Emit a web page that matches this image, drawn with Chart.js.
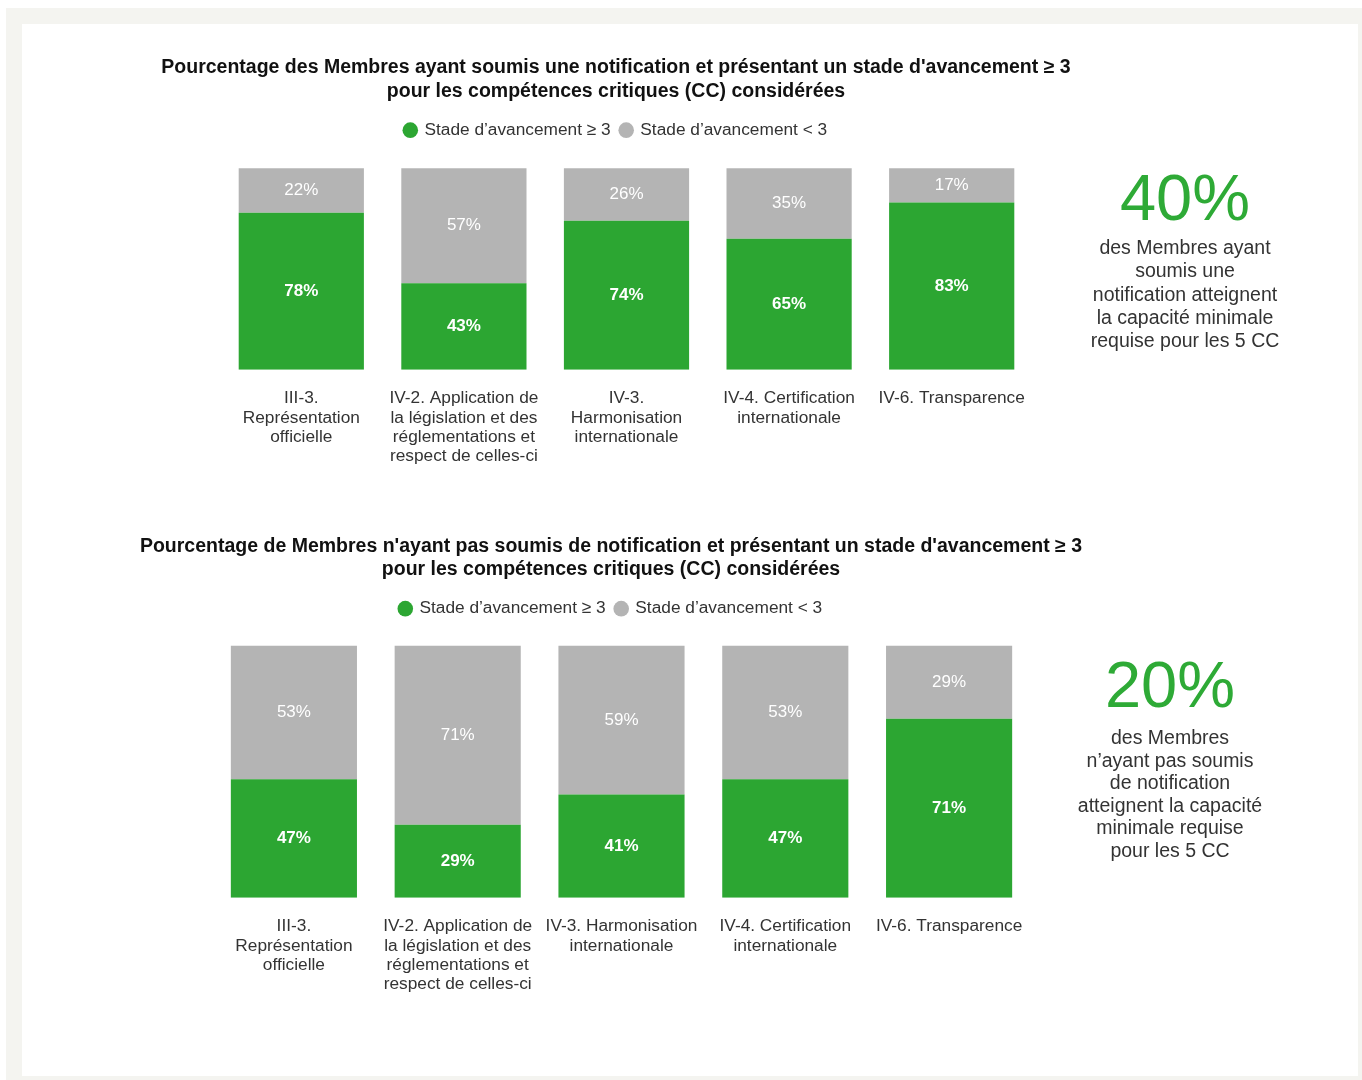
<!DOCTYPE html>
<html lang="fr">
<head>
<meta charset="utf-8">
<title>Stade d'avancement des compétences critiques</title>
<script src="https://cdn.jsdelivr.net/npm/chart.js@4.4.1/dist/chart.umd.min.js"></script>
<style>
  html, body { margin: 0; padding: 0; background: #fff; }
  body { width: 1362px; height: 1080px; position: relative; overflow: hidden;
         font-family: "Liberation Sans", Arial, sans-serif; }
  .frame { position: absolute; left: 6px; top: 8px; right: 0; bottom: 0; background: #f4f4f0; }
  .panel { position: absolute; left: 22px; top: 24px; width: 1336px; height: 1052px; background: #fff; }
  canvas { position: absolute; left: 0; }
  .big { position: absolute; width: 240px; text-align: center; color: #2eaa36;
         font-size: 65px; line-height: 65px; }
  .note { position: absolute; width: 240px; text-align: center; color: #333;
          font-size: 19.5px; }
</style>
</head>
<body>
<div class="frame"></div>
<div class="panel"></div>

<canvas id="chart-notified" width="1232" height="455" style="top:30px"></canvas>
<canvas id="chart-not-notified" width="1222" height="513" style="top:500px"></canvas>

<div class="big" style="left:1065px; top:165px">40%</div>
<div class="note" style="left:1065px; top:236px; line-height:23.3px">
  des Membres ayant<br>soumis une<br>notification atteignent<br>la capacité minimale<br>requise pour les 5 CC
</div>

<div class="big" style="left:1050px; top:652px">20%</div>
<div class="note" style="left:1050px; top:726px; line-height:22.6px">
  des Membres<br>n’ayant pas soumis<br>de notification<br>atteignent la capacité<br>minimale requise<br>pour les 5 CC
</div>

<script>
// --- data ---
const seriesNames = ['Stade d’avancement ≥ 3', 'Stade d’avancement < 3'];

const notifiedLabels = [
  ['III-3.', 'Représentation', 'officielle'],
  ['IV-2. Application de', 'la législation et des', 'réglementations et', 'respect de celles-ci'],
  ['IV-3.', 'Harmonisation', 'internationale'],
  ['IV-4. Certification', 'internationale'],
  ['IV-6. Transparence']
];
const notifiedAtLeast3 = [78, 43, 74, 65, 83];
const notifiedBelow3 = [22, 57, 26, 35, 17];

const notNotifiedLabels = [
  ['III-3.', 'Représentation', 'officielle'],
  ['IV-2. Application de', 'la législation et des', 'réglementations et', 'respect de celles-ci'],
  ['IV-3. Harmonisation', 'internationale'],
  ['IV-4. Certification', 'internationale'],
  ['IV-6. Transparence']
];
const notNotifiedAtLeast3 = [47, 29, 41, 47, 71];
const notNotifiedBelow3 = [53, 71, 59, 53, 29];

const GREEN = '#2ca632';
const GREY = '#b4b4b4';
const FONT = '"Liberation Sans", Arial, sans-serif';

// percentage written in the middle of every segment
const segmentLabels = {
  id: 'segmentLabels',
  afterDatasetsDraw(chart) {
    const ctx = chart.ctx;
    ctx.save();
    ctx.textAlign = 'center';
    ctx.textBaseline = 'middle';
    ctx.fillStyle = '#fff';
    chart.data.datasets.forEach((ds, i) => {
      ctx.font = (i === 0 ? 'bold ' : '') + '17px ' + FONT;
      chart.getDatasetMeta(i).data.forEach((bar, j) => {
        ctx.fillText(ds.data[j] + '%', bar.x, (bar.y + bar.base) / 2);
      });
    });
    ctx.restore();
  }
};

function buildChart(id, {title, labels, atLeast3, below3, yMax, leftGap, rightGap, titlePadding, titleLineHeight}) {
  return new Chart(document.getElementById(id), {
    type: 'bar',
    data: {
      labels,
      datasets: [
        { label: seriesNames[0], data: atLeast3, backgroundColor: GREEN, borderWidth: 0 },
        { label: seriesNames[1], data: below3, backgroundColor: GREY, borderWidth: 0 }
      ]
    },
    options: {
      responsive: false,
      animation: false,
      devicePixelRatio: 1,
      layout: { padding: 0 },
      datasets: { bar: { categoryPercentage: 1, barPercentage: 0.77 } },
      plugins: {
        title: {
          display: true,
          text: title,
          color: '#111',
          font: { family: FONT, size: 19.5, weight: 'bold', lineHeight: titleLineHeight },
          padding: titlePadding
        },
        legend: {
          labels: {
            usePointStyle: true,
            pointStyle: 'circle',
            boxWidth: 11,
            boxHeight: 11,
            padding: 10,
            color: '#333',
            font: { family: FONT, size: 17.3 }
          }
        },
        tooltip: { enabled: false }
      },
      scales: {
        x: {
          stacked: true,
          grid: { display: false, drawTicks: false },
          border: { display: false },
          ticks: {
            color: '#333',
            padding: 19,
            maxRotation: 0,
            autoSkip: false,
            font: { family: FONT, size: 17.3, lineHeight: 1.115 }
          }
        },
        y: {
          stacked: true,
          min: 0,
          max: yMax,
          grid: { display: false },
          border: { display: false },
          ticks: { display: false },
          afterFit: s => { s.width = leftGap; }
        },
        yRight: {
          type: 'linear',
          position: 'right',
          grid: { display: false },
          border: { display: false },
          ticks: { display: false },
          afterFit: s => { s.width = rightGap; }
        }
      }
    },
    plugins: [segmentLabels]
  });
}

buildChart('chart-notified', {
  title: ['Pourcentage des Membres ayant soumis une notification et présentant un stade d\'avancement ≥ 3',
          'pour les compétences critiques (CC) considérées'],
  labels: notifiedLabels,
  atLeast3: notifiedAtLeast3,
  below3: notifiedBelow3,
  yMax: 109.7,
  leftGap: 220,
  rightGap: 199,
  titlePadding: { top: 26, bottom: 7.5 },
  titleLineHeight: 24 / 19.5
});

buildChart('chart-not-notified', {
  title: ['Pourcentage de Membres n\'ayant pas soumis de notification et présentant un stade d\'avancement ≥ 3',
          'pour les compétences critiques (CC) considérées'],
  labels: notNotifiedLabels,
  atLeast3: notNotifiedAtLeast3,
  below3: notNotifiedBelow3,
  yMax: 107.3,
  leftGap: 212,
  rightGap: 191,
  titlePadding: { top: 35.5, bottom: 8.5 },
  titleLineHeight: 23 / 19.5
});
</script>
</body>
</html>
